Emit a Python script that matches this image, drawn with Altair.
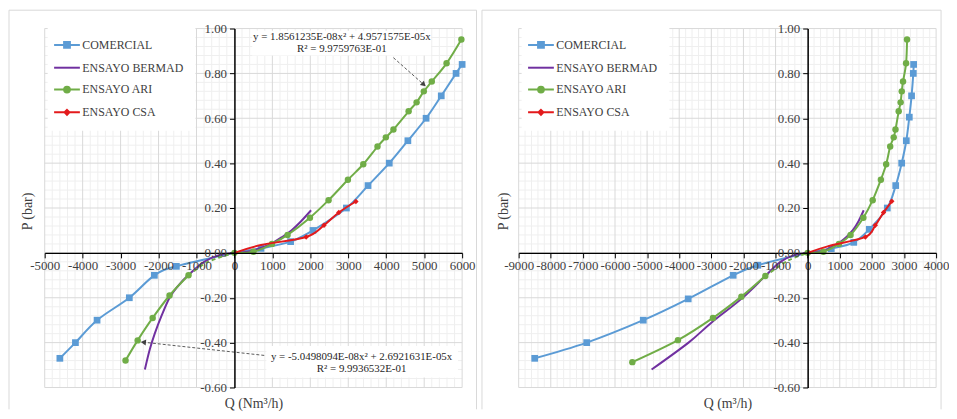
import altair as alt
import pandas as pd

FONT = "Liberation Serif"
TXT = "#404040"
SERIES = ["COMERCIAL", "ENSAYO BERMAD", "ENSAYO ARI", "ENSAYO CSA"]
COLORS = ["#5b9bd5", "#7030a0", "#70ad47", "#e31a1c"]
LEGEND_SHAPES = [
    "M-2,0L2,0M-0.45,-0.45L0.45,-0.45L0.45,0.45L-0.45,0.45Z",
    "M-2,0L2,0",
    "M-2,0L2,0M0.45,0A0.45,0.45,0,1,1,-0.45,0A0.45,0.45,0,1,1,0.45,0Z",
    "M-2,0L2,0M0,-0.38L0.38,0L0,0.38L-0.38,0Z",
]

P_TICKS = [-0.6, -0.4, -0.2, 0.0, 0.2, 0.4, 0.6, 0.8, 1.0]
L_Q_TICKS = list(range(-5000, 6001, 1000))
R_Q_TICKS = list(range(-9000, 4001, 1000))

# ---------- left chart: Q (Nm3/h)
L_COM_Q = [-4600, -4190, -3620, -2770, -2110, -1530, 0, 700, 1480, 2070, 2950, 3520, 4080, 4570, 5050, 5450, 5840, 6000]
L_COM_P = [-0.47, -0.40, -0.30, -0.20, -0.10, -0.06, 0.00, 0.02, 0.05, 0.10, 0.20, 0.30, 0.40, 0.50, 0.60, 0.70, 0.80, 0.84]
L_BER_Q = [-2360, -2230, -2100, -1920, -1710, -1500, -1220, -800, -400, 0, 250, 500, 750, 1000, 1250, 1500, 1750, 2020]
L_BER_P = [-0.52, -0.43, -0.36, -0.28, -0.20, -0.15, -0.10, -0.04, -0.01, 0.0, 0.003, 0.011, 0.025, 0.044, 0.07, 0.10, 0.14, 0.19]
L_ARI_NEG_Q = [-2870, -2550, -2155, -1710, -1210]
L_ARI_NEG_P = [-0.48, -0.39, -0.29, -0.19, -0.10]
L_ARI_Q = [0, 500, 990, 1400, 1990, 2480, 2990, 3395, 3770, 3990, 4190, 4590, 4800, 4990, 5200, 5590, 5980]
L_ARI_P = [0.0, 0.005, 0.04, 0.08, 0.157, 0.235, 0.326, 0.395, 0.474, 0.515, 0.55, 0.631, 0.671, 0.72, 0.764, 0.845, 0.951]
L_TREND_Q = [-1210, -700, 0]
L_TREND_P = [-0.10, -0.04, 0.0]
L_CSA_Q = [0, 700, 1890, 2360, 2750, 3200]
L_CSA_P = [0.0, 0.035, 0.071, 0.123, 0.18, 0.229]

# ---------- right chart: Q (m3/h)
R_COM_Q = [-8500, -6880, -5120, -3720, -2320, -1550, 0, 735, 1436, 1920, 2480, 2742, 2928, 3072, 3165, 3236, 3290, 3300]
R_COM_P = [-0.47, -0.40, -0.30, -0.205, -0.10, -0.055, 0.0, 0.019, 0.047, 0.105, 0.20, 0.30, 0.40, 0.50, 0.605, 0.70, 0.80, 0.84]
R_BER_Q = [-4860, -3710, -2990, -2065, -1320, -850, -420, 0, 250, 500, 740, 980, 1200, 1400, 1580, 1745]
R_BER_P = [-0.52, -0.40, -0.31, -0.205, -0.103, -0.04, -0.01, 0.0, 0.003, 0.011, 0.025, 0.045, 0.07, 0.10, 0.14, 0.19]
R_ARI_NEG_Q = [-5460, -4040, -2950, -2065, -1320]
R_ARI_NEG_P = [-0.487, -0.389, -0.29, -0.195, -0.103]
R_ARI_Q = [0, 490, 975, 1335, 1735, 2025, 2280, 2445, 2570, 2680, 2735, 2835, 2895, 2930, 2970, 3065, 3095]
R_ARI_P = [0.0, 0.005, 0.04, 0.08, 0.157, 0.235, 0.326, 0.395, 0.474, 0.515, 0.55, 0.631, 0.671, 0.72, 0.764, 0.845, 0.951]
R_TREND_Q = [-1320, -620, 0]
R_TREND_P = [-0.103, -0.035, 0.0]
R_CSA_Q = [0, 650, 1797, 2106, 2362, 2619]
R_CSA_P = [0.0, 0.03, 0.071, 0.123, 0.18, 0.23]

# ---------- trendline annotations (left chart)
ANN_TEXT = ["y = 1.8561235E-08x\u00b2 + 4.9571575E-05x", "R\u00b2 = 9.9759763E-01",
            "y = -5.0498094E-08x\u00b2 + 2.6921631E-05x", "R\u00b2 = 9.9936532E-01"]
ANN_Q = [2830, 2830, 3350, 3350]
ANN_P = [0.962, 0.91, -0.462, -0.519]
BOX_Q1 = [470, 840]
BOX_Q2 = [5180, 5890]
BOX_P1 = [0.99, -0.415]
BOX_P2 = [0.88, -0.555]
ARROW_Q1 = [4190, 785]
ARROW_P1 = [0.87, -0.457]
ARROW_Q2 = [4990, -2400]
ARROW_P2 = [0.75, -0.398]
ARROW_SHAPE = ["triangle-right", "triangle-left"]
ARROW_ANGLE = [42, 6]

W, H = 421, 362
GRID_MAJOR = "#d9d9d9"
GRID_MINOR = "#efefef"
BORDER = "#d9d9d9"


def sdf(q, p, seg=0):
    return pd.DataFrame({"Q": q, "P": p, "seg": [seg] * len(q), "i": list(range(len(q)))})


def panel(qmin, qmax, q_ticks, xtitle, ytitle_x, com, ber, ari_neg, ari_pos, trend, csa,
          border_left, border_right, ann=False):
    xs = alt.Scale(domain=[qmin, qmax], nice=False, zero=False)
    ys = alt.Scale(domain=[-0.6, 1.0], nice=False, zero=False)
    x_off = -H * 0.6 / 1.6
    y_off = -W * (-qmin) / (qmax - qmin)
    xaxis = alt.Axis(
        values=q_ticks, offset=x_off, grid=False, domainColor="black", domainWidth=1.5,
        ticks=True, tickColor="black", tickSize=5, tickWidth=1,
        labelFont=FONT, labelFontSize=13, labelColor=TXT, labelPadding=2,
        labelFlush=False, labelOverlap=False,
        labelExpr="datum.value < 0 ? '-' + format(-datum.value, 'd') : format(datum.value, 'd')",
        title=xtitle, titleFont=FONT, titleFontSize=14, titleFontWeight="normal", titleColor=TXT,
        titleX=W / 2, titleY=378 - (H + x_off), titleBaseline="middle", titleAlign="center",
        zindex=1)
    yaxis = alt.Axis(
        values=P_TICKS, offset=y_off, grid=False, domainColor="black", domainWidth=1.5,
        ticks=True, tickColor="black", tickSize=5, tickWidth=1,
        labelFont=FONT, labelFontSize=13, labelColor=TXT, labelPadding=3,
        labelOverlap=False, labelFlush=False,
        labelExpr="datum.value < 0 ? '-' + format(-datum.value, '.2f') : format(datum.value, '.2f')",
        title="P (bar)", titleFont=FONT, titleFontSize=14, titleFontWeight="normal", titleColor=TXT,
        titleX=ytitle_x + y_off, titleY=H / 2 + 3, titleBaseline="middle", titleAlign="center",
        zindex=1)

    def X(f):
        return alt.X(f"{f}:Q", scale=xs, axis=xaxis)

    def Y(f):
        return alt.Y(f"{f}:Q", scale=ys, axis=yaxis)

    one = pd.DataFrame({"a": [0]})
    minor_x = pd.DataFrame({"v": [v for v in range(qmin, qmax + 1, 200) if v % 1000]})
    major_x = pd.DataFrame({"v": q_ticks})
    minor_y = pd.DataFrame({"v": [round(-0.6 + 0.04 * k, 2) for k in range(41) if k % 5]})
    major_y = pd.DataFrame({"v": P_TICKS})

    layers = [
        alt.Chart(minor_x).mark_rule(color=GRID_MINOR, strokeWidth=1).encode(x=X("v")),
        alt.Chart(minor_y).mark_rule(color=GRID_MINOR, strokeWidth=1).encode(y=Y("v")),
        alt.Chart(major_x).mark_rule(color=GRID_MAJOR, strokeWidth=1).encode(x=X("v")),
        alt.Chart(major_y).mark_rule(color=GRID_MAJOR, strokeWidth=1).encode(y=Y("v")),
        alt.Chart(one).mark_rule(color=BORDER, strokeWidth=1).encode(
            x=alt.value(border_left), x2=alt.value(border_right), y=alt.value(-18.5)),
        alt.Chart(one).mark_rule(color=BORDER, strokeWidth=1).encode(
            x=alt.value(border_left), y=alt.value(-18.5), y2=alt.value(384)),
    ]
    if border_right < W + 20:
        layers.append(alt.Chart(one).mark_rule(color=BORDER, strokeWidth=1).encode(
            x=alt.value(border_right), y=alt.value(-18.5), y2=alt.value(384)))

    if ann:
        boxes = pd.DataFrame({"q1": BOX_Q1, "q2": BOX_Q2, "p1": BOX_P1, "p2": BOX_P2})
        layers.append(alt.Chart(boxes).mark_rect(color="white", opacity=1).encode(
            x=X("q1"), x2="q2", y=Y("p1"), y2="p2"))

    def line(d, color, dash=None):
        kw = {"strokeDash": dash} if dash else {}
        return alt.Chart(d).mark_line(interpolate="cardinal", strokeWidth=2, color=color, **kw).encode(
            x=X("Q"), y=Y("P"), order="i:Q", detail="seg:N")

    def pts(d, color, shape, size, skip_zero=True):
        c = alt.Chart(d)
        if skip_zero:
            c = c.transform_filter("datum.P != 0")
        return c.mark_point(filled=True, shape=shape, size=size, color=color, opacity=1).encode(
            x=X("Q"), y=Y("P"))

    ari = pd.concat([ari_neg, ari_pos], ignore_index=True)
    layers += [
        line(com, COLORS[0]), pts(com, COLORS[0], "square", 46),
        line(ber, COLORS[1]),
        line(ari, COLORS[2]), line(trend, COLORS[2], [4, 3]),
        pts(ari, COLORS[2], "circle", 42, skip_zero=False),
        line(csa, COLORS[3]), pts(csa[csa["i"] >= 2], COLORS[3], "diamond", 30),
    ]

    if ann:
        arrows = pd.DataFrame({"q1": ARROW_Q1, "p1": ARROW_P1, "q2": ARROW_Q2, "p2": ARROW_P2,
                               "shape": ARROW_SHAPE, "angle": ARROW_ANGLE})
        layers.append(alt.Chart(arrows).mark_rule(color="#595959", strokeWidth=1, strokeDash=[3, 2]).encode(
            x=X("q1"), y=Y("p1"), x2="q2", y2="p2"))
        for k in range(len(ARROW_SHAPE)):
            layers.append(alt.Chart(arrows.iloc[[k]]).mark_point(
                filled=True, shape=ARROW_SHAPE[k], angle=ARROW_ANGLE[k], size=36,
                color="#404040", opacity=1).encode(x=X("q2"), y=Y("p2")))
        texts = pd.DataFrame({"t": ANN_TEXT, "Q": ANN_Q, "P": ANN_P})
        layers.append(alt.Chart(texts).mark_text(font=FONT, fontSize=11, color="#262626",
                                                 align="center", baseline="middle").encode(
            x=X("Q"), y=Y("P"), text="t:N"))

    leg = alt.Legend(title=None, orient="none", legendX=3, legendY=-3, padding=12,
                     fillColor="white", symbolSize=169, symbolStrokeWidth=2, symbolOpacity=1,
                     labelFont=FONT, labelFontSize=12, labelColor=TXT, labelOffset=8,
                     rowPadding=8, labelLimit=0)
    leg_df = pd.DataFrame({"S": SERIES, "Q": [None] * 4, "P": [None] * 4})
    layers.append(alt.Chart(leg_df).mark_point(filled=True, opacity=1).encode(
        x=X("Q"), y=Y("P"),
        fill=alt.Fill("S:N", scale=alt.Scale(domain=SERIES, range=COLORS), legend=leg),
        stroke=alt.Stroke("S:N", scale=alt.Scale(domain=SERIES, range=COLORS), legend=leg),
        shape=alt.Shape("S:N", scale=alt.Scale(domain=SERIES, range=LEGEND_SHAPES), legend=leg)))

    return alt.layer(*layers).properties(width=W, height=H)


left = panel(-5000, 6000, L_Q_TICKS, "Q (Nm\u00b3/h)", -17.5,
             sdf(L_COM_Q, L_COM_P), sdf(L_BER_Q, L_BER_P),
             sdf(L_ARI_NEG_Q, L_ARI_NEG_P, 0), sdf(L_ARI_Q, L_ARI_P, 1),
             sdf(L_TREND_Q, L_TREND_P), sdf(L_CSA_Q, L_CSA_P),
             border_left=-36, border_right=435.5, ann=True)
right = panel(-9000, 4000, R_Q_TICKS, "Q (m\u00b3/h)", -15.5,
              sdf(R_COM_Q, R_COM_P), sdf(R_BER_Q, R_BER_P),
              sdf(R_ARI_NEG_Q, R_ARI_NEG_P, 0), sdf(R_ARI_Q, R_ARI_P, 1),
              sdf(R_TREND_Q, R_TREND_P), sdf(R_CSA_Q, R_CSA_P),
              border_left=-37, border_right=426, ann=False)

chart = alt.hconcat(left, right, spacing=57, bounds="flush").resolve_scale(
    fill="independent", stroke="independent", shape="independent"
).properties(padding=0, background="white").configure_view(strokeWidth=0)

chart.save("out.html", embed_options={"renderer": "svg", "actions": False})
